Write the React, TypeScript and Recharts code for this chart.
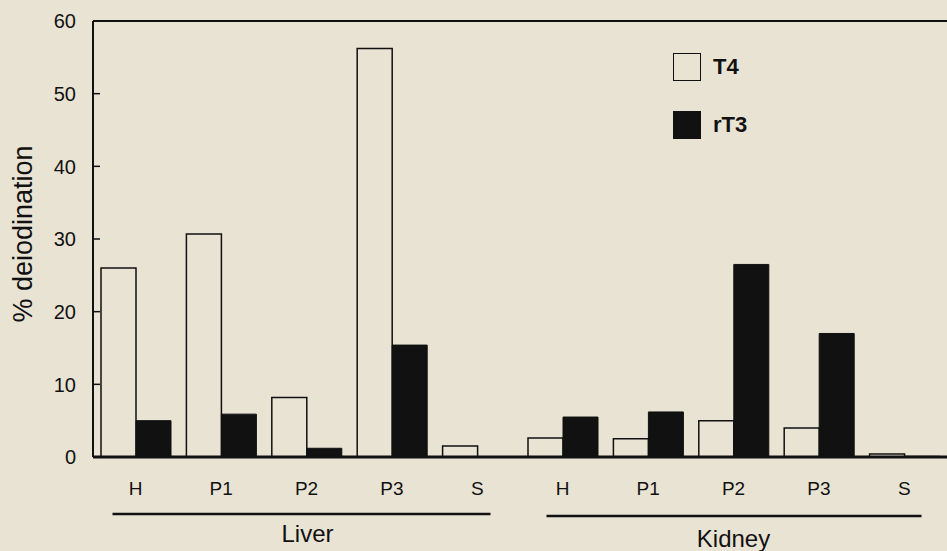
import React from 'react';
import { BarChart, Bar, XAxis, YAxis, ReferenceLine, Legend } from 'recharts';

const tissues = ['Liver', 'Kidney'];
const fractions = ['H', 'P1', 'P2', 'P3', 'S'];
const t4Liver = [26.0, 30.7, 8.2, 56.2, 1.5];
const rt3Liver = [5.0, 5.9, 1.2, 15.4, 0];
const t4Kidney = [2.6, 2.5, 5.0, 4.0, 0.4];
const rt3Kidney = [5.5, 6.2, 26.5, 17.0, 0.1];
const yTicks = [0, 10, 20, 30, 40, 50, 60];

const t4ByTissue = [t4Liver, t4Kidney];
const rt3ByTissue = [rt3Liver, rt3Kidney];

const data = tissues.flatMap((tissue, ti) =>
  fractions.map((f, fi) => ({
    key: `${tissue}-${f}`,
    tissue,
    fraction: f,
    T4: t4ByTissue[ti][fi],
    rT3: rt3ByTissue[ti][fi],
  }))
);

// group annotation drawn under the middle category of each tissue
const groupStyle: Record<string, { left: number; right: number; lineDy: number; textDy: number; textDx: number }> = {
  Liver: { left: 194, right: 184, lineDy: 32, textDy: 43, textDx: 1 },
  Kidney: { left: 187, right: 188, lineDy: 34, textDy: 48, textDx: 0 },
};

const BG = '#e9e3d4';
const INK = '#111';
const FONT = '"Liberation Sans", Arial, Helvetica, sans-serif';

const YTick = (props: any) => {
  const { x, y, payload } = props;
  return (
    <g>
      <line x1={x} x2={x + 7} y1={y} y2={y} stroke={INK} strokeWidth={1.5} />
      <text x={x - 17} y={y} dy="0.36em" textAnchor="end" fontSize={20} fill={INK} fontFamily={FONT}>
        {payload.value}
      </text>
    </g>
  );
};

const XTick = (props: any) => {
  const { x, y, payload } = props;
  const [tissue, fraction] = String(payload.value).split('-');
  const idx = fractions.indexOf(fraction);
  const isMiddle = idx === Math.floor(fractions.length / 2);
  const g = groupStyle[tissue];
  return (
    <g>
      <text x={x} y={y} dy="0.71em" textAnchor="middle" fontSize={19} fill={INK} fontFamily={FONT}>
        {fraction}
      </text>
      {isMiddle && g && (
        <g>
          <line x1={x - g.left} x2={x + g.right} y1={y + g.lineDy} y2={y + g.lineDy} stroke={INK} strokeWidth={2.5} />
          <text x={x + g.textDx} y={y + g.textDy} dy="0.71em" textAnchor="middle" fontSize={24} fill={INK} fontFamily={FONT}>
            {tissue}
          </text>
        </g>
      )}
    </g>
  );
};

const LegendContent = (props: any) => {
  const { payload } = props;
  return (
    <div style={{ fontFamily: FONT }}>
      {(payload || []).map((entry: any) => {
        const fill = entry?.payload?.fill ?? entry.color;
        return (
          <div key={entry.value} style={{ display: 'flex', alignItems: 'center', height: 28, marginBottom: 30 }}>
            <div
              style={{
                width: 26,
                height: 26,
                background: fill,
                border: `1.5px solid ${INK}`,
                marginRight: 12,
              }}
            />
            <span style={{ fontWeight: 'bold', fontSize: 22, color: INK }}>{entry.value}</span>
          </div>
        );
      })}
    </div>
  );
};

const YLabel = (props: any) => {
  const vb = props.viewBox || { x: 0, y: 21, width: 93, height: 436 };
  const cx = vb.x + 23;
  const cy = vb.y + vb.height / 2 - 5;
  return (
    <text
      transform={`translate(${cx},${cy}) rotate(-90)`}
      textAnchor="middle"
      dominantBaseline="central"
      fontSize={27}
      fill={INK}
      fontFamily={FONT}
    >
      % deiodination
    </text>
  );
};

export default function App() {
  return (
    <div style={{ position: 'absolute', left: 0, top: 0, width: 947, height: 551, background: BG }}>
      <BarChart
        width={947}
        height={551}
        data={data}
        margin={{ top: 21, right: 0, left: 0, bottom: 0 }}
        barGap={0}
        style={{ fontFamily: FONT }}
      >
        <XAxis
          dataKey="key"
          interval={0}
          height={94}
          tickLine={false}
          tickSize={0}
          tickMargin={25}
          axisLine={{ stroke: INK, strokeWidth: 3 }}
          tick={<XTick />}
        />
        <YAxis
          width={93}
          domain={[0, 60]}
          ticks={yTicks}
          interval={0}
          tickSize={0}
          tickMargin={0}
          tickLine={false}
          axisLine={{ stroke: INK, strokeWidth: 2 }}
          tick={<YTick />}
          label={{ content: <YLabel /> }}
        />
        <ReferenceLine y={60} stroke={INK} strokeWidth={2} ifOverflow="visible" />
        <Legend
          content={<LegendContent />}
          layout="vertical"
          align="center"
          verticalAlign="middle"
          wrapperStyle={{ position: 'absolute', left: 673, top: 53, width: 120 }}
        />
        <Bar dataKey="T4" name="T4" fill={BG} stroke={INK} strokeWidth={1.5} barSize={35} isAnimationActive={false} />
        <Bar dataKey="rT3" name="rT3" fill={INK} stroke={INK} strokeWidth={1} barSize={35} isAnimationActive={false} />
      </BarChart>
    </div>
  );
}
